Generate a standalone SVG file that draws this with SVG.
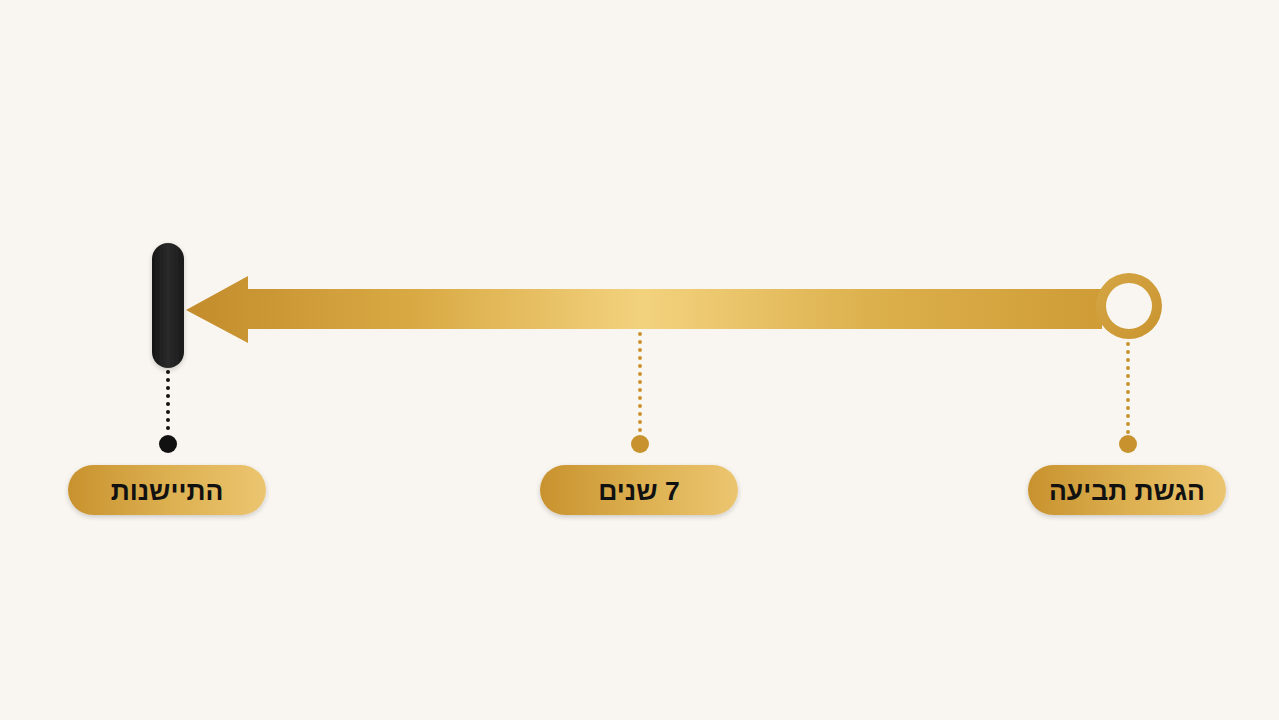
<svg xmlns="http://www.w3.org/2000/svg" width="1279" height="720" viewBox="0 0 1279 720">
<defs>
<linearGradient id="shaft" x1="0" y1="0" x2="1" y2="0">
<stop offset="0" stop-color="#c38c2c"/>
<stop offset="0.25" stop-color="#d9aa44"/>
<stop offset="0.5" stop-color="#f3d27e"/>
<stop offset="0.75" stop-color="#dcb04c"/>
<stop offset="1" stop-color="#cf9c36"/>
</linearGradient>
<linearGradient id="ring" x1="0" y1="0" x2="1" y2="1">
<stop offset="0" stop-color="#d6a645"/>
<stop offset="1" stop-color="#c8942f"/>
</linearGradient>
<linearGradient id="pill" x1="0" y1="0" x2="1" y2="0">
<stop offset="0" stop-color="#c8922e"/>
<stop offset="0.55" stop-color="#deb253"/>
<stop offset="1" stop-color="#ecc570"/>
</linearGradient>
<linearGradient id="black" x1="0" y1="0" x2="1" y2="0">
<stop offset="0" stop-color="#161616"/>
<stop offset="0.5" stop-color="#2a2a2a"/>
<stop offset="1" stop-color="#1a1a1a"/>
</linearGradient>
<filter id="sh" x="-20%" y="-40%" width="140%" height="180%">
<feDropShadow dx="0" dy="2" stdDeviation="2.5" flood-color="#000" flood-opacity="0.18"/>
</filter>
<style>
.lbl{font-family:"Liberation Sans","DejaVu Sans",sans-serif;font-weight:bold;font-size:26.5px;fill:#111;text-anchor:middle;direction:rtl}
.gdot{stroke:#c8922e;stroke-width:4;stroke-linecap:round;stroke-dasharray:0 8;fill:none}
.bdot{stroke:#111;stroke-width:4;stroke-linecap:round;stroke-dasharray:0 8;fill:none}
</style>
</defs>
<rect width="1279" height="720" fill="#f9f6f1"/>
<g id="connectors">
<line class="bdot" x1="168" y1="372" x2="168" y2="436"/>
<line class="gdot" x1="640" y1="334" x2="640" y2="436"/>
<line class="gdot" x1="1128" y1="344" x2="1128" y2="436"/>
<circle cx="168" cy="444" r="9" fill="#111"/>
<circle cx="640" cy="444" r="9" fill="#c8922e"/>
<circle cx="1128" cy="444" r="9" fill="#c8922e"/>
</g>
<g id="arrow">
<path d="M186,310 L248,276 L248,289 L1102,289 L1102,329 L248,329 L248,343 Z" fill="url(#shaft)"/>
<path fill-rule="evenodd" fill="url(#ring)" d="M1162,306 a33,33 0 1,1 -66,0 a33,33 0 1,1 66,0 Z M1152,306 a23,23 0 1,0 -46,0 a23,23 0 1,0 46,0 Z"/>
</g>
<g id="end-marker">
<rect x="152" y="243" width="32" height="125" rx="16" fill="url(#black)" filter="url(#sh)"/>
</g>
<g id="node-settlement">
<rect x="68" y="465" width="198" height="50" rx="25" fill="url(#pill)" filter="url(#sh)"/>
<text class="lbl" x="167" y="500">התיישנות</text>
</g>
<g id="node-years">
<rect x="540" y="465" width="198" height="50" rx="25" fill="url(#pill)" filter="url(#sh)"/>
<text class="lbl" x="639" y="500">7 שנים</text>
</g>
<g id="node-claim">
<rect x="1028" y="465" width="198" height="50" rx="25" fill="url(#pill)" filter="url(#sh)"/>
<text class="lbl" x="1127" y="500">הגשת תביעה</text>
</g>
</svg>
